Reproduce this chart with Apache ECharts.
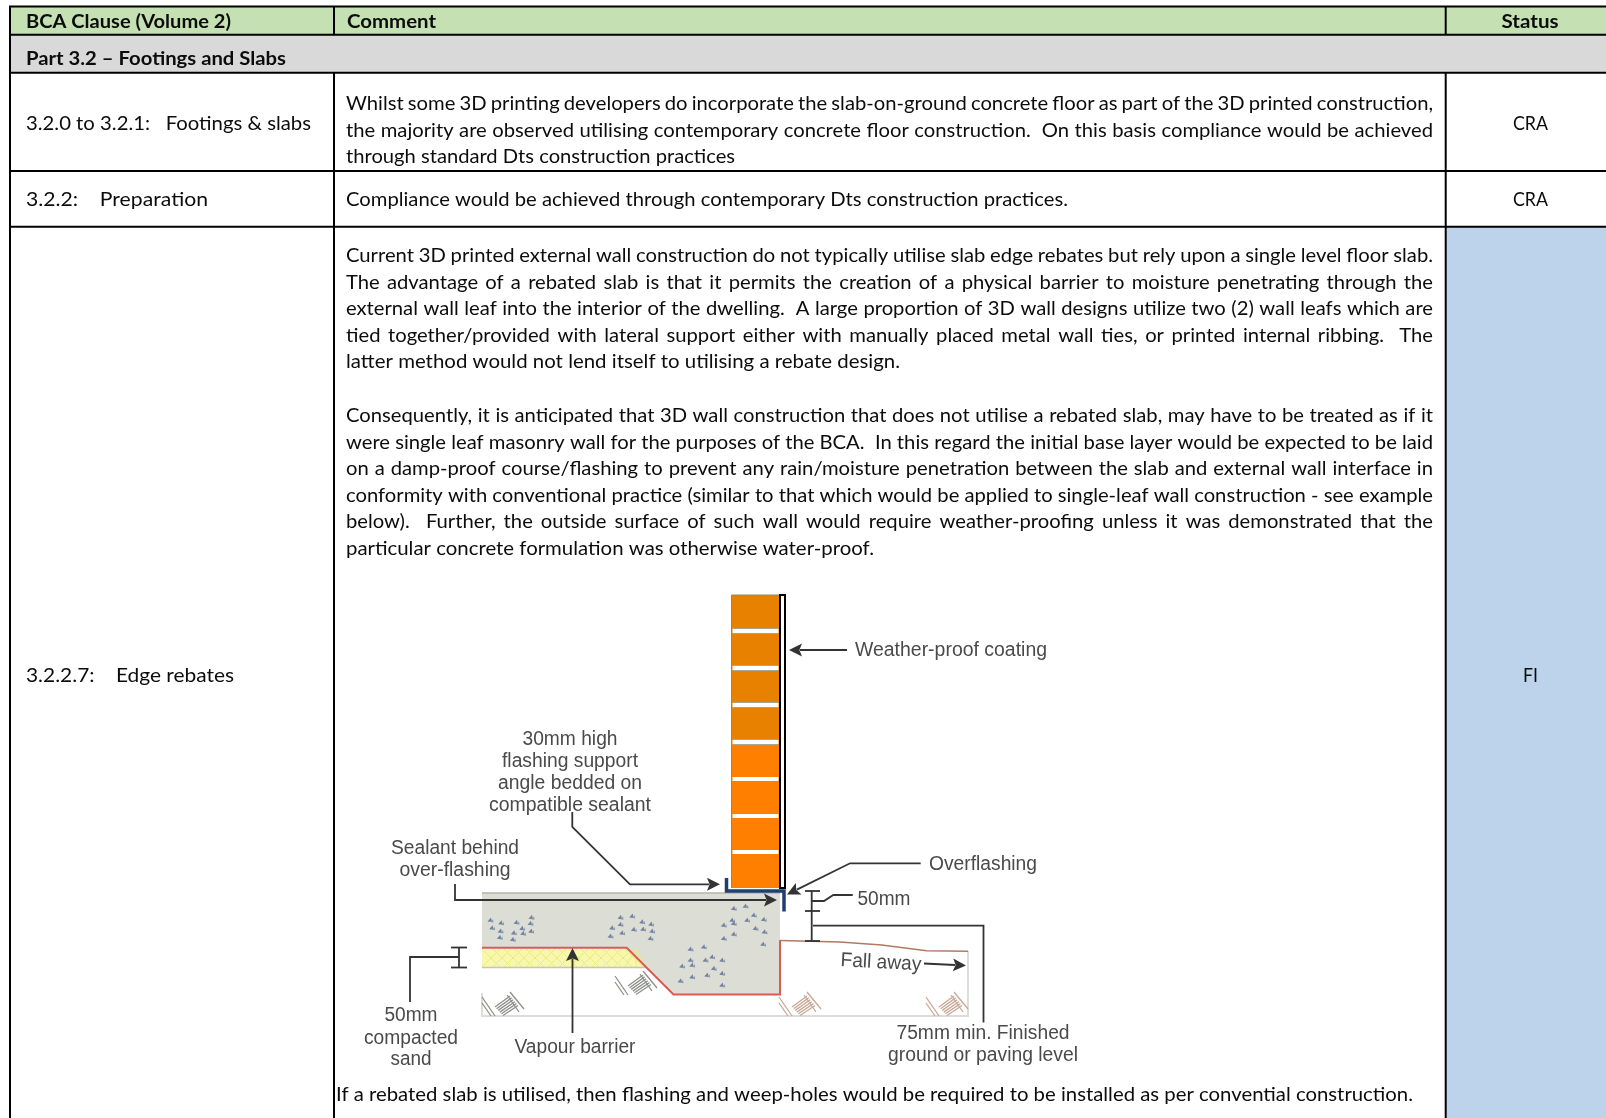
<!DOCTYPE html>
<html>
<head>
<meta charset="utf-8">
<style>html,body{margin:0;padding:0;background:#fff}#c{width:1606px;height:1118px}</style>
<script src="https://cdn.jsdelivr.net/npm/echarts@6/dist/echarts.min.js"></script>
</head>
<body>
<div id="c"></div>
<script>
// ---- content ----
var headerCells = ['BCA Clause (Volume 2)', 'Comment', 'Status'];
var sectionTitle = 'Part 3.2 \u2013 Footings and Slabs';
var clauseLabels = ['3.2.0 to 3.2.1:   Footings & slabs', '3.2.2:    Preparation', '3.2.2.7:    Edge rebates'];
var statusLabels = ['CRA', 'CRA', 'FI'];
var commentRow1 = [
  'Whilst some 3D printing developers do incorporate the slab-on-ground concrete floor as part of the 3D printed construction,',
  'the majority are observed utilising contemporary concrete floor construction.  On this basis compliance would be achieved',
  'through standard Dts construction practices'
];
var commentRow2 = ['Compliance would be achieved through contemporary Dts construction practices.'];
var commentRow3a = [
  'Current 3D printed external wall construction do not typically utilise slab edge rebates but rely upon a single level floor slab.',
  'The advantage of a rebated slab is that it permits the creation of a physical barrier to moisture penetrating through the',
  'external wall leaf into the interior of the dwelling.  A large proportion of 3D wall designs utilize two (2) wall leafs which are',
  'tied together/provided with lateral support either with manually placed metal wall ties, or printed internal ribbing.  The',
  'latter method would not lend itself to utilising a rebate design.'
];
var commentRow3b = [
  'Consequently, it is anticipated that 3D wall construction that does not utilise a rebated slab, may have to be treated as if it',
  'were single leaf masonry wall for the purposes of the BCA.  In this regard the initial base layer would be expected to be laid',
  'on a damp-proof course/flashing to prevent any rain/moisture penetration between the slab and external wall interface in',
  'conformity with conventional practice (similar to that which would be applied to single-leaf wall construction - see example',
  'below).  Further, the outside surface of such wall would require weather-proofing unless it was demonstrated that the',
  'particular concrete formulation was otherwise water-proof.'
];
var commentFinal = 'If a rebated slab is utilised, then flashing and weep-holes would be required to be installed as per convential construction.';
var diagramLabels = [
  'Weather-proof coating', '30mm high', 'flashing support', 'angle bedded on', 'compatible sealant',
  'Sealant behind', 'over-flashing', 'Overflashing', '50mm', 'Fall away', '50mm', 'compacted', 'sand',
  'Vapour barrier', '75mm min. Finished', 'ground or paving level'
];

// ---- layout ----
var T = {left: 10, c1: 334, c2: 1445.7, right: 1606, top: 6.5, hb: 34.7, sb: 72.7, r1: 171, r2: 226.7, bottom: 1118};
var els = [];
var meas = document.createElement('canvas').getContext('2d');
var BODY = 'Lato, sans-serif';

function rect(x, y, w, h, fill) { els.push({type:'rect', silent:true, shape:{x:x,y:y,width:w,height:h}, style:{fill:fill}}); }
function line(pts, color, w) { els.push({type:'polyline', silent:true, shape:{points:pts}, style:{stroke:color, lineWidth:w, fill:null, lineJoin:'miter'}}); }
function poly(pts, fill) { els.push({type:'polygon', silent:true, shape:{points:pts}, style:{fill:fill}}); }
function text(str, x, cy, opt) {
  opt = opt || {};
  var font = (opt.weight || 'normal') + ' ' + (opt.size || 18.6) + 'px ' + (opt.family || BODY);
  meas.font = font;
  var natural = meas.measureText(str).width;
  var sx = opt.width ? opt.width / natural : (opt.sx || 1);
  var w = natural * sx;
  var left = opt.center ? x - w / 2 : x;
  els.push({type:'text', silent:true, x:left, y:cy, scaleX:sx, rotation:opt.rot||0,
    style:{text:str, font:font, fill:opt.fill||'#0c0c0c', align:'left', verticalAlign:'middle'}});
}
function arrow(pts, color, w, size) {
  var n = pts.length, a = pts[n-2], b = pts[n-1];
  var dx = b[0]-a[0], dy = b[1]-a[1], L = Math.sqrt(dx*dx+dy*dy); dx/=L; dy/=L;
  var bx = b[0]-dx*size, by = b[1]-dy*size, hw = size*0.5;
  var shaft = pts.slice(0, n-1).concat([[bx+dx*2,by+dy*2]]);
  line(shaft, color, w);
  poly([b, [bx-dy*hw, by+dx*hw], [b[0]-dx*size*0.8, b[1]-dy*size*0.8], [bx+dy*hw, by-dx*hw]], color);
}

// table fills
rect(T.left, T.top, T.right-T.left, T.hb-T.top, '#c5e0b3');
rect(T.left, T.hb, T.right-T.left, T.sb-T.hb, '#d9d9d9');
rect(T.c2, T.r2, T.right-T.c2, T.bottom-T.r2, '#bdd3ec');

// header and rows
text(headerCells[0], 26, 21.5, {weight:'bold', size:19, width:205});
text(headerCells[1], 347, 21.5, {weight:'bold', size:19, width:89});
text(headerCells[2], 1530, 21.5, {weight:'bold', size:19, width:57, center:true});
text(sectionTitle, 26, 59, {weight:'bold', size:19, width:260});

var COL2 = 346, JUST = 1087;
var clauseW = [285, 182, 208], clauseY = [124, 200, 676];
clauseLabels.forEach(function(s,i){ text(s, 26, clauseY[i], {width:clauseW[i]}); });
statusLabels.forEach(function(s,i){ text(s, 1530.5, clauseY[i], {center:true, width: i<2?35:15}); });

// glyph width factor taken from the one long unjustified line
meas.font = 'normal 18.6px ' + BODY;
var GF = 722 / meas.measureText(commentRow2[0]).width;
function justified(str, y) {
  var words = str.split(/ +/);
  var spaces = str.length - str.replace(/ /g, '').length;
  var used = 0, widths = words.map(function(w){ var m = meas.measureText(w).width * GF; used += m; return m; });
  var gap = (JUST - used) / spaces;
  var x = COL2, pos = 0;
  words.forEach(function(w, i){
    text(w, x, y, {sx: GF});
    x += widths[i];
    pos += w.length;
    var sp = 0;
    while (str.charAt(pos) === ' ') { sp++; pos++; }
    x += sp * gap;
    meas.font = 'normal 18.6px ' + BODY;
  });
}
function block(lines, ys, lastW) {
  lines.forEach(function(s,i){
    if (i === lines.length-1 && lastW) text(s, COL2, ys[i], {width:lastW});
    else justified(s, ys[i]);
  });
}
block(commentRow1, [104,130.5,156.5], 389);
block(commentRow2, [200], 722);
block(commentRow3a, [255.5,282.5,308.5,335.5,362], 554);
block(commentRow3b, [415.5,442.5,469,495.5,522,548.5], 528);
text(commentFinal, 336, 1094.5, {width:1077});

// diagram
var DF = '"Liberation Sans", Arial, sans-serif', DC = '#4a4a4a';
function dlabel(i, cx, cy, w, rot) { text(diagramLabels[i], cx, cy+1.5, {family:DF, size:20, width:w, center:true, fill:DC, rot:rot}); }
function z4(X,Y){ return [340+X/3, 860+Y/3]; }

// earth
var groundTop = [[779.5,940.5],[840,942],[881.7,945],[905,948],[926.7,950.7],[968,951.3]];
line([[482,993],[482,1016],[968,1016],[968,951]], '#dcdcdc', 2);
function hatch(x0, y0, col) {
  function seg(ax,ay,bx,by){ line([[x0+ax,y0+ay],[x0+bx,y0+by]], col, 1.3); }
  seg(0,5,13,24); seg(0,11,9,24);
  seg(28,0,42,17); seg(25,3,37,20);
  for (var i = 0; i < 6; i++) seg(13+i*1.6, 15+i*1.7, 28+i*1.6, 4+i*1.9);
}
hatch(482, 992, '#8f8f8a');
hatch(615, 971, '#8f8f8a');
hatch(779, 992, '#c8a896');
hatch(926, 992, '#c8a896');

// slab
poly([[482,893],[780,893],[780,994],[673.5,994],[626.7,947.7],[482,947.7]], '#dcddd5');
line([[482,893],[780,893]], '#b5b5a8', 1.5);
// sand
poly([[482,949],[627,949],[645,967],[482,967]], '#f7f7ae');
for (var hx = 482; hx < 640; hx += 11) {
  var ex = Math.min(hx+18, 645);
  line([[hx,949],[ex,967]], '#ecec7e', 1);
  line([[Math.min(hx+18,636),949],[hx,967]], '#ecec7e', 1);
}
line([[482,967.5],[646,967.5]], '#c4c4b8', 1.5);
// aggregate
var aggregate = [
 [450,180],[482,188],[455,203],[480,213],[478,232],[517,238],[573,172],[570,190],[528,187],[545,205],[520,218],[548,220],[572,213],
 [840,172],[875,168],[840,193],[905,185],[932,192],[815,203],[880,208],[845,218],[908,207],[810,228],[935,213],[930,235],
 [1180,145],[1215,138],[1175,180],[1240,165],[1270,178],[1220,180],[1150,195],[1180,190],[1245,205],[1272,215],[1150,235],[1180,222],[1268,252],
 [1050,267],[1090,260],[1050,300],[1115,290],[1145,300],[1095,300],[1025,318],[1055,315],[1120,325],[1145,340],[1020,362],[1055,350],[1100,345],[1145,375]
];
aggregate.forEach(function(a){
  var p = z4(a[0],a[1]);
  poly([[p[0]-2.5,p[1]+1.5],[p[0]+1,p[1]-2.5],[p[0]+2,p[1]+2]], '#7183a0');
  poly([[p[0]+1,p[1]+2],[p[0]+3,p[1]-1],[p[0]+3.5,p[1]+2.5]], '#8a99b0');
});
// membrane and ground
line([[482,947.7],[626.7,947.7],[673.5,994.5],[780,994.5],[780,940.5]], '#dc5a50', 2);
line(groundTop, '#b27a62', 1.5);

// wall
rect(731.5, 595, 48, 293, '#ff8000');
rect(731.5, 595, 48, 147, '#e88000');
[631,668,705,742,779,816,852].forEach(function(y,i){
  rect(732.5, y-2, 46, 4, '#ffffff');
  if (i<4) { rect(732.5,y-3,46,1,'#a8a890'); rect(732.5,y+2,46,1,'#a8a890'); }
});
line([[731.5,595],[731.5,888]], '#8c8c70', 1);
line([[731.5,595],[779.5,595]], '#8c8c70', 1);
els.push({type:'rect', silent:true, shape:{x:780,y:595,width:5,height:293}, style:{fill:'#fff', stroke:'#000', lineWidth:2}});

// flashing
line([[726.5,878],[726.5,891],[784,891],[784,911.5]], '#1f3f70', 3.5);

// leaders
var LC = '#333333', LW = 1.8, AS = 13;
arrow([[847,650],[789,650]], LC, LW, AS);
arrow([[572.3,812],[572.3,827],[630,884.3],[720,884.3]], LC, LW, AS);
arrow([[455,884],[455,900],[777,900]], LC, LW, AS);
arrow([[920.7,863.3],[850,863.3],[787,894.5]], LC, LW, AS);
arrow([[572.5,1033],[572.5,948]], LC, LW, AS);
arrow([[924,963.5],[966,965.5]], LC, LW, AS);
// sand dimension
line([[451,947.5],[467,947.5]], LC, LW);
line([[451,967.5],[467,967.5]], LC, LW);
line([[459,947.5],[459,967.5]], LC, LW);
line([[459,957],[410,957],[410,1002]], LC, LW);
// right dimension
line([[811.7,891],[811.7,941]], LC, LW);
[891,911,941].forEach(function(y){ line([[805,y],[820,y]], LC, LW); });
line([[811.7,901],[824,901],[833.3,895],[852.7,895]], LC, LW);
line([[813,925.7],[983.5,925.7],[983.5,1022.5]], LC, LW);

// diagram labels
dlabel(0, 951, 649, 192);
dlabel(1, 570, 738, 95);
dlabel(2, 570, 760, 136);
dlabel(3, 570, 782, 144);
dlabel(4, 570, 804, 162);
dlabel(5, 455, 847, 128);
dlabel(6, 455, 869, 111);
dlabel(7, 983, 863, 108);
dlabel(8, 884, 898, 53);
dlabel(9, 881, 959, 81, -0.055);
dlabel(10, 411, 1014, 53);
dlabel(11, 411, 1037, 94);
dlabel(12, 411, 1058, 41);
dlabel(13, 575, 1046, 121);
dlabel(14, 983, 1032, 173);
dlabel(15, 983, 1054, 190);

// table rules
var K = '#000';
function h(y, x0, x1) { line([[x0,y],[x1,y]], K, 2); }
function v(x, y0, y1) { line([[x,y0],[x,y1]], K, 2); }
h(T.top, T.left-1, T.right); h(T.hb, T.left, T.right); h(T.sb, T.left, T.right);
h(T.r1, T.left, T.right); h(T.r2, T.left, T.right);
v(T.left, T.top, T.bottom);
v(T.c1, T.top, T.hb); v(T.c1, T.sb, T.bottom);
v(T.c2, T.top, T.hb); v(T.c2, T.sb, T.bottom);

var chart = echarts.init(document.getElementById('c'), null, {renderer:'canvas'});
chart.setOption({animation:false, backgroundColor:'#ffffff', graphic:{elements:els}});
</script>
</body>
</html>
